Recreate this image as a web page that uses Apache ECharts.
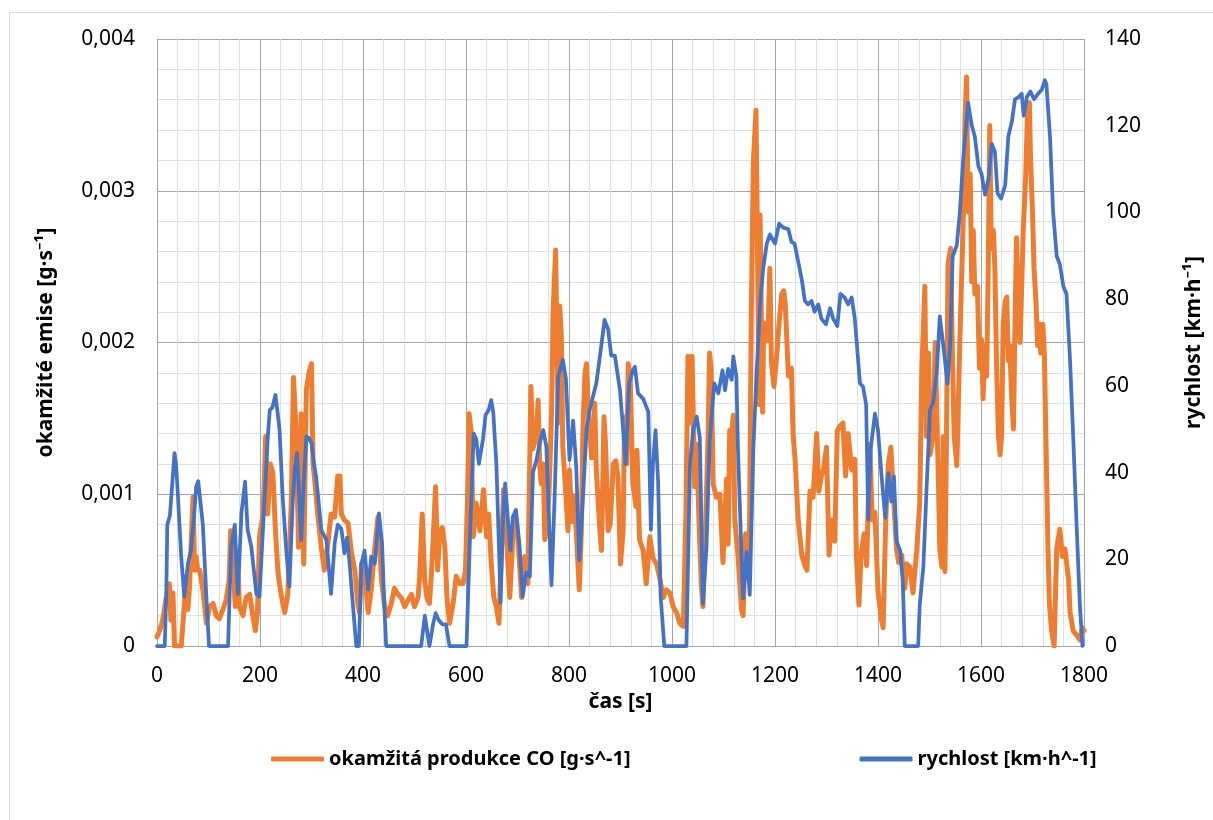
<!DOCTYPE html>
<html>
<head>
<meta charset="utf-8">
<script src="https://cdn.jsdelivr.net/npm/echarts@6/dist/echarts.min.js"></script>
<style>
html,body{margin:0;padding:0;background:#fff;}
#chart{width:1213px;height:820px;}
</style>
</head>
<body>
<div id="chart"></div>
<script>
// time [s] for the vehicle speed series
const speedTime = [0,15,18,20,23,25,30,34,37,40,47,53,60,66,72,76,80,83,89,96,101,138,144,151,157,164,171,176,183,193,199,209,215,219,224,230,234,238,244,251,257,264,268,272,276,280,285,290,295,300,305,309,314,319,329,338,345,351,358,364,369,374,380,387,392,397,403,410,416,423,431,437,442,445,513,520,529,536,541,547,554,561,568,601,609,615,620,625,633,638,644,649,653,659,664,667,672,676,681,686,691,697,704,710,717,724,730,737,743,750,756,766,772,779,788,794,801,808,814,820,827,834,840,853,860,869,876,882,889,899,905,910,917,924,928,934,944,954,959,963,968,973,978,985,1028,1035,1041,1048,1054,1060,1067,1073,1082,1090,1098,1103,1109,1116,1119,1125,1128,1135,1138,1145,1151,1158,1164,1171,1177,1184,1190,1200,1208,1216,1226,1232,1238,1245,1252,1258,1264,1271,1277,1284,1290,1299,1307,1313,1321,1327,1335,1342,1349,1355,1365,1371,1377,1381,1386,1394,1400,1407,1414,1420,1426,1431,1436,1443,1448,1452,1478,1481,1488,1494,1501,1507,1514,1520,1527,1535,1540,1545,1553,1559,1566,1575,1582,1588,1595,1601,1608,1615,1621,1627,1632,1639,1647,1653,1660,1666,1673,1679,1683,1689,1696,1703,1711,1718,1724,1727,1734,1740,1747,1753,1760,1766,1773,1779,1786,1792,1797];
// vehicle speed [km/h]
const speedKmh = [0,0,12,28,28,30,38,44.5,42,36,20.6,11.4,19,22,30,36.7,38,37.9,28,11,0,0,23,28,12,30.7,37.9,26.8,23,12,11.4,34.4,48,54.4,55,57.9,54,49.8,34.4,22,13.7,34.4,41,44.5,35,24.4,38,48.3,48,46.7,42,39,33,26.8,24.4,12,23.7,28,27,21.4,25,19,10,0,0,19,22,13,20.6,19,30.6,23.7,7.6,0,0,7,0,5,7.6,6,5,5,0,0,29.8,49,47.7,42,47.7,53.3,54.4,56.7,53.8,42,22.9,10,29.8,37.5,29.8,22,29.8,31.4,23,11.4,17,16,40,43,46.7,49.8,46,14,34,62,66,61.6,42.9,52,41.4,19.8,34,49.8,54.4,60.6,66.7,75.2,73,67,67,59,50,42,60.6,63.6,64.4,58.3,57,54,26.8,42,49.8,38,11.4,0,0,42,49.8,52.9,48,9.8,22.9,47,60.6,58.3,63.6,59,63.9,61.4,66.8,62.2,45.7,20.9,11,21.7,11.8,45.7,62.2,78.8,87,92.8,94.9,92.8,97.4,96.5,96.1,93.2,92.8,88.7,84.5,79.6,78.8,79.6,77.1,78.8,75.5,74.2,77.9,75.5,73.8,81.2,80.4,78.8,80.4,75.5,60.6,59.8,55.6,29.2,45.7,53.6,49.8,39.1,29.6,39.9,33.3,39.1,24.2,22,15.1,0,0,9.5,18.1,35.4,54.4,56.2,63.1,76,69.1,60.5,69.1,89.9,92.4,100.2,113.2,125.3,120.1,117.5,110.6,108.9,104.1,108,115.8,114,104.5,103.2,106.3,117.5,121,126.1,126.6,127.4,122.3,126.6,127.9,126.1,127.4,128.3,130.5,129.6,117.5,100.2,89.9,88.1,82.9,81.2,65.7,48.4,26.8,9.5,0];
// time [s] for the CO emission series
const coTime = [0,5,11,18,24,27,31,34,40,47,50,57,60,63,66,70,73,76,79,83,89,96,102,109,115,121,128,134,140,143,147,152,157,160,167,173,180,186,191,195,199,206,211,215,220,225,230,235,241,248,254,261,265,270,275,280,285,290,295,300,303,306,312,319,325,332,338,345,351,355,358,364,371,377,384,390,393,397,403,410,416,423,429,436,442,448,455,461,468,474,481,487,494,500,507,510,515,520,524,529,534,541,545,549,554,559,563,568,575,581,588,594,599,603,606,610,614,620,627,634,640,644,649,654,659,664,668,673,678,685,691,697,701,708,714,720,726,730,737,740,743,746,750,753,756,761,766,769,774,779,782,785,788,791,798,801,805,810,814,820,824,827,831,834,837,840,844,847,850,853,860,863,868,871,876,880,886,891,895,900,905,908,912,915,919,924,930,932,937,944,950,953,957,963,970,976,983,989,996,1002,1009,1015,1022,1027,1031,1035,1039,1044,1048,1053,1057,1060,1065,1070,1073,1076,1080,1086,1093,1099,1106,1109,1112,1116,1119,1122,1128,1135,1138,1143,1150,1154,1158,1163,1165,1169,1171,1176,1178,1184,1187,1190,1193,1198,1203,1208,1213,1217,1220,1226,1232,1235,1239,1245,1252,1258,1262,1268,1274,1281,1285,1290,1294,1300,1305,1309,1316,1321,1326,1332,1337,1342,1349,1355,1358,1363,1367,1373,1378,1384,1389,1394,1400,1407,1410,1415,1420,1425,1431,1436,1440,1446,1452,1456,1462,1468,1475,1481,1485,1491,1494,1498,1501,1507,1511,1517,1520,1524,1527,1530,1533,1536,1541,1545,1548,1553,1558,1561,1566,1569,1572,1575,1579,1582,1585,1588,1593,1597,1601,1604,1608,1611,1614,1617,1620,1624,1627,1630,1634,1637,1640,1643,1647,1650,1653,1656,1659,1663,1666,1669,1672,1676,1679,1682,1687,1690,1694,1696,1700,1703,1707,1710,1713,1716,1720,1723,1726,1730,1733,1737,1742,1745,1747,1753,1758,1763,1770,1773,1779,1786,1792,1797,1800];
// instantaneous CO production [g/s]
const coRate = [0.00006,0.0001,0.00017,0.00032,0.00041,0.00017,0.00035,0,0,0,0.00013,0.00046,0.00024,0.00038,0.00065,0.00098,0.0005,0.00059,0.0005,0.0005,0.00037,0.00015,0.00026,0.00028,0.0002,0.00018,0.00024,0.0003,0.00043,0.00076,0.00059,0.00026,0.00054,0.00026,0.0002,0.00032,0.00034,0.0002,0.0001,0.00022,0.00072,0.00087,0.00138,0.00087,0.0012,0.00114,0.00076,0.00048,0.00034,0.00022,0.00034,0.00098,0.00177,0.00142,0.00065,0.00153,0.00054,0.00169,0.0018,0.00186,0.0012,0.0011,0.00087,0.00065,0.0005,0.00068,0.00087,0.00085,0.00112,0.00112,0.00087,0.00083,0.00081,0.00063,0.0005,0.00028,0.00022,0.00054,0.0005,0.00022,0.00037,0.00065,0.00085,0.00043,0.00026,0.0002,0.00028,0.00038,0.00034,0.00032,0.00026,0.0003,0.00034,0.00026,0.00032,0.00046,0.00087,0.00043,0.00032,0.00028,0.00054,0.00105,0.0005,0.00076,0.00078,0.00065,0.00032,0.00015,0.00028,0.00046,0.00041,0.00041,0.0005,0.00098,0.00153,0.00142,0.00072,0.00094,0.00076,0.00103,0.00072,0.00087,0.00054,0.00032,0.00026,0.00015,0.00054,0.00103,0.00076,0.00032,0.00072,0.00085,0.0007,0.00032,0.00059,0.00041,0.00171,0.0013,0.00142,0.00162,0.0012,0.00107,0.0012,0.0007,0.00078,0.001,0.00151,0.00219,0.00261,0.00147,0.00224,0.00205,0.00131,0.00116,0.00076,0.00116,0.00082,0.00099,0.00076,0.00037,0.00076,0.00142,0.0018,0.00186,0.0016,0.00142,0.00124,0.00138,0.0016,0.00116,0.00076,0.00063,0.00151,0.00133,0.00076,0.0008,0.0012,0.00122,0.00111,0.00054,0.00076,0.00151,0.0012,0.00186,0.00176,0.00107,0.00092,0.00129,0.0007,0.00063,0.00041,0.00054,0.00072,0.00058,0.00054,0.00045,0.00032,0.00037,0.00035,0.00026,0.00022,0.00015,0.00013,0.00087,0.00191,0.00147,0.00191,0.00105,0.00133,0.00076,0.00041,0.00026,0.00076,0.00138,0.00193,0.00182,0.00107,0.00098,0.001,0.00055,0.0011,0.00067,0.00142,0.0014,0.00152,0.00083,0.0006,0.00024,0.0002,0.00074,0.00055,0.0022,0.00319,0.00353,0.00296,0.00159,0.00284,0.00154,0.00213,0.00201,0.00213,0.00249,0.00187,0.00171,0.0019,0.00213,0.00232,0.00234,0.00225,0.00178,0.00183,0.0014,0.00123,0.00083,0.0006,0.00053,0.0005,0.00102,0.00098,0.0014,0.00102,0.00112,0.00116,0.00131,0.0006,0.00083,0.00069,0.00142,0.00145,0.00147,0.00112,0.0014,0.00116,0.00123,0.0006,0.00027,0.0006,0.00074,0.00053,0.00133,0.00083,0.00088,0.00036,0.00017,0.00012,0.00083,0.00119,0.00131,0.00093,0.00064,0.00055,0.0006,0.00038,0.00054,0.00052,0.00035,0.00062,0.00094,0.0018,0.00237,0.00138,0.00193,0.00126,0.00138,0.002,0.00114,0.00064,0.00052,0.00138,0.00049,0.00138,0.00252,0.00262,0.00183,0.00138,0.00119,0.00188,0.00227,0.00286,0.00348,0.00375,0.00286,0.00311,0.0024,0.00274,0.00232,0.00237,0.00183,0.00202,0.00163,0.00198,0.00178,0.00247,0.00343,0.00262,0.00274,0.00249,0.00188,0.00138,0.00126,0.00138,0.00212,0.00227,0.0023,0.00188,0.00198,0.00168,0.00143,0.00212,0.00269,0.00227,0.002,0.00237,0.00274,0.00311,0.00348,0.00358,0.00323,0.00286,0.00249,0.00225,0.00198,0.00212,0.00193,0.00212,0.00193,0.00138,0.00064,0.00027,0.0001,0,0,0.00064,0.00077,0.00059,0.00064,0.00044,0.00022,0.0001,0.00007,0.00004,0.00012,0.0001];
// axis tick values
const xTicks = [0,200,400,600,800,1000,1200,1400,1600,1800];
const leftTicks = [0,0.001,0.002,0.003,0.004];
const rightTicks = [0,20,40,60,80,100,120,140];

const coName = 'okamžitá produkce CO [g·s^-1]';
const speedName = 'rychlost [km·h^-1]';

const coData = coTime.map((t, i) => [t, coRate[i]]);
const speedData = speedTime.map((t, i) => [t, speedKmh[i]]);

const FONT = '"Noto Sans", sans-serif';
const MAJOR = '#a5a5a5';
const MINOR = '#e0e0e0';

const chart = echarts.init(document.getElementById('chart'), null, {renderer: 'canvas'});
chart.setOption({
  animation: false,
  backgroundColor: '#ffffff',
  graphic: [{
    type: 'rect', left: 7, top: 10, silent: true, z: -10,
    shape: {width: 1300, height: 900},
    style: {fill: 'none', stroke: '#d9d9d9', lineWidth: 1}
  }],
  grid: {left: 157, right: 129, top: 39, bottom: 174, containLabel: false},
  legend: {
    left: 266, top: 744,
    icon: 'roundRect', itemWidth: 53, itemHeight: 5, itemGap: 229,
    textStyle: {fontFamily: FONT, fontSize: 20, fontWeight: 'bold', color: '#000'},
    data: [coName, speedName]
  },
  xAxis: {
    type: 'value', min: xTicks[0], max: xTicks[xTicks.length - 1], interval: 200,
    name: 'čas [s]', nameLocation: 'middle', nameGap: 42,
    nameTextStyle: {fontFamily: FONT, fontSize: 21, fontWeight: 'bold', color: '#000'},
    axisLine: {show: true, lineStyle: {color: MAJOR, width: 1}},
    axisTick: {show: false},
    axisLabel: {fontFamily: FONT, fontSize: 21, color: '#000', margin: 20, formatter: v => String(v)},
    splitLine: {show: true, lineStyle: {color: MAJOR, width: 1}},
    minorTick: {show: false, splitNumber: 5},
    minorSplitLine: {show: true, lineStyle: {color: MINOR, width: 1}}
  },
  yAxis: [{
    type: 'value', min: leftTicks[0], max: leftTicks[leftTicks.length - 1], interval: 0.001,
    position: 'left',
    name: 'okamžité emise [g·s⁻¹]', nameLocation: 'middle', nameGap: 100, nameRotate: 90,
    nameTextStyle: {fontFamily: FONT, fontSize: 21, fontWeight: 'bold', color: '#000'},
    axisLine: {show: true, lineStyle: {color: MAJOR, width: 1}},
    axisTick: {show: false},
    axisLabel: {
      fontFamily: FONT, fontSize: 21, color: '#000', margin: 22,
      formatter: v => v === 0 ? '0' : v.toFixed(3).replace('.', ',')
    },
    splitLine: {show: true, lineStyle: {color: MAJOR, width: 1}},
    minorTick: {show: false, splitNumber: 5},
    minorSplitLine: {show: true, lineStyle: {color: MINOR, width: 1}}
  }, {
    type: 'value', min: rightTicks[0], max: rightTicks[rightTicks.length - 1], interval: 20,
    position: 'right',
    name: 'rychlost [km·h⁻¹]', nameLocation: 'middle', nameGap: 100, nameRotate: 90,
    nameTextStyle: {fontFamily: FONT, fontSize: 21, fontWeight: 'bold', color: '#000'},
    axisLine: {show: false},
    axisTick: {show: false},
    axisLabel: {fontFamily: FONT, fontSize: 21, color: '#000', margin: 21, formatter: v => String(v)},
    splitLine: {show: false}
  }],
  series: [{
    name: coName, type: 'line', yAxisIndex: 0, data: coData,
    showSymbol: false, symbol: 'none',
    itemStyle: {color: '#ED7D31'},
    lineStyle: {color: '#ED7D31', width: 5, join: 'round', cap: 'round'},
    z: 2
  }, {
    name: speedName, type: 'line', yAxisIndex: 1, data: speedData,
    showSymbol: false, symbol: 'none',
    itemStyle: {color: '#4472C4'},
    lineStyle: {color: '#4472C4', width: 3.75, join: 'round', cap: 'round'},
    z: 3
  }]
});
</script>
</body>
</html>
